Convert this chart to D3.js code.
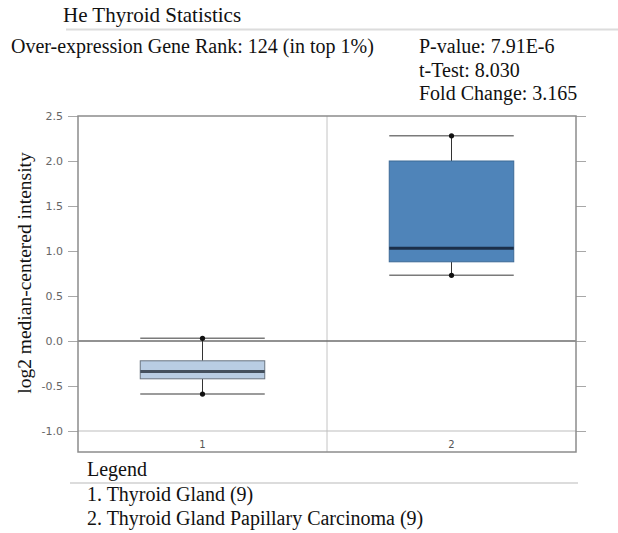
<!DOCTYPE html>
<html>
<head>
<meta charset="utf-8">
<script src="https://cdn.jsdelivr.net/npm/d3@7"></script>
<style>
  html, body { margin: 0; padding: 0; background: #fff; }
  svg { display: block; }
  .serif { font-family: "Liberation Serif", "Times New Roman", serif; fill: #111; }
</style>
</head>
<body>
<svg id="chart" width="618" height="533"></svg>
<script>
// Sample groups and their five-number summaries (log2 median-centered intensity)
const categories = ["1", "2"];
const groupNames = ["Thyroid Gland (9)", "Thyroid Gland Papillary Carcinoma (9)"];
const whiskerMin = [-0.59, 0.73];
const quartile1  = [-0.42, 0.88];
const medians    = [-0.34, 1.03];
const quartile3  = [-0.22, 2.00];
const whiskerMax = [0.03, 2.28];
const yTicks = [-1.0, -0.5, 0.0, 0.5, 1.0, 1.5, 2.0, 2.5];

const title = "He Thyroid Statistics";
const rankText = "Over-expression Gene Rank: 124 (in top 1%)";
const statLines = ["P-value: 7.91E-6", "t-Test: 8.030", "Fold Change: 3.165"];
const axisTitle = "log2 median-centered intensity";

const boxFill   = ["#b9cde3", "#4f84b9"];
const boxStroke = ["#6a7480", "#3d6a96"];
const medColor  = ["#44505e", "#1b2f4a"];

const svg = d3.select("#chart");

// Header
svg.append("text").attr("class", "serif").attr("x", 63).attr("y", 22)
  .attr("font-size", 21).text(title);
svg.append("line").attr("x1", 66).attr("x2", 618).attr("y1", 29.5).attr("y2", 29.5)
  .attr("stroke", "#dcdcdc").attr("stroke-width", 2);
svg.append("text").attr("class", "serif").attr("x", 11).attr("y", 53)
  .attr("font-size", 20).text(rankText);
svg.selectAll("text.stat").data(statLines).join("text")
  .attr("class", "serif stat").attr("x", 419).attr("y", (d, i) => 53 + i * 23.5)
  .attr("font-size", 20).text(d => d);

// Plot area
const plotL = 78, plotR = 576, plotT = 116, axisY = 431, plotB = 452;
const x = d3.scaleBand().domain(categories).range([plotL, plotR]).padding(0);
const y = d3.scaleLinear().domain([-1.0, 2.5]).range([axisY, plotT]);

const fmt = d => d.toFixed(1);

// Left axis
const gl = svg.append("g").attr("transform", `translate(${plotL},0)`)
  .call(d3.axisLeft(y).tickValues(yTicks).tickSize(10).tickPadding(5).tickFormat(fmt));
gl.select(".domain").remove();
gl.selectAll(".tick line").attr("stroke", "#a8a8a8");
gl.selectAll(".tick text").attr("fill", "#666").attr("font-family", "DejaVu Sans, sans-serif")
  .attr("font-size", 11);

// Right axis (ticks only)
const gr = svg.append("g").attr("transform", `translate(${plotR},0)`)
  .call(d3.axisRight(y).tickValues(yTicks).tickSize(10).tickFormat(""));
gr.select(".domain").remove();
gr.selectAll(".tick line").attr("stroke", "#a8a8a8");

// Category divider, axis line and zero line
svg.append("line").attr("x1", x("2")).attr("x2", x("2")).attr("y1", plotT).attr("y2", plotB)
  .attr("stroke", "#c4c4c4").attr("stroke-width", 1);
svg.append("line").attr("x1", plotL).attr("x2", plotR).attr("y1", y(-1.0)).attr("y2", y(-1.0))
  .attr("stroke", "#bdbdbd").attr("stroke-width", 1);
svg.append("line").attr("x1", plotL).attr("x2", plotR).attr("y1", y(0)).attr("y2", y(0))
  .attr("stroke", "#6e6e6e").attr("stroke-width", 1.3);

svg.selectAll("text.cat").data(categories).join("text")
  .attr("class", "cat").attr("x", d => x(d) + x.bandwidth() / 2).attr("y", 448)
  .attr("text-anchor", "middle").attr("fill", "#555")
  .attr("font-family", "DejaVu Sans, sans-serif").attr("font-size", 10).text(d => d);

// Frame
svg.append("rect").attr("x", plotL).attr("y", plotT).attr("width", plotR - plotL).attr("height", plotB - plotT)
  .attr("fill", "none").attr("stroke", "#8c8c8c").attr("stroke-width", 1.5);

// Box plots
const bw = x.bandwidth() * 0.5;
categories.forEach((c, i) => {
  const cx = x(c) + x.bandwidth() / 2;
  const g = svg.append("g");
  // stems
  g.append("line").attr("x1", cx).attr("x2", cx).attr("y1", y(whiskerMax[i])).attr("y2", y(quartile3[i]))
    .attr("stroke", "#333").attr("stroke-width", 1);
  g.append("line").attr("x1", cx).attr("x2", cx).attr("y1", y(quartile1[i])).attr("y2", y(whiskerMin[i]))
    .attr("stroke", "#333").attr("stroke-width", 1);
  // caps
  [whiskerMax[i], whiskerMin[i]].forEach(v => {
    g.append("line").attr("x1", cx - bw / 2).attr("x2", cx + bw / 2).attr("y1", y(v)).attr("y2", y(v))
      .attr("stroke", "#7a7a7a").attr("stroke-width", 1.5);
  });
  // box
  g.append("rect").attr("x", cx - bw / 2).attr("y", y(quartile3[i]))
    .attr("width", bw).attr("height", y(quartile1[i]) - y(quartile3[i]))
    .attr("fill", boxFill[i]).attr("stroke", boxStroke[i]).attr("stroke-width", 1);
  // median
  g.append("line").attr("x1", cx - bw / 2).attr("x2", cx + bw / 2).attr("y1", y(medians[i])).attr("y2", y(medians[i]))
    .attr("stroke", medColor[i]).attr("stroke-width", 3);
  // extreme points
  [whiskerMax[i], whiskerMin[i]].forEach(v => {
    g.append("circle").attr("cx", cx).attr("cy", y(v)).attr("r", 2.6).attr("fill", "#111");
  });
});

// Y-axis title
svg.append("text").attr("class", "serif")
  .attr("transform", `translate(31,273) rotate(-90)`)
  .attr("text-anchor", "middle").attr("font-size", 19.5).text(axisTitle);

// Legend
svg.append("text").attr("class", "serif").attr("x", 87).attr("y", 476)
  .attr("font-size", 20).text("Legend");
svg.append("line").attr("x1", 70).attr("x2", 578).attr("y1", 483).attr("y2", 483)
  .attr("stroke", "#dcdcdc").attr("stroke-width", 2);
svg.selectAll("text.leg").data(groupNames).join("text")
  .attr("class", "serif leg").attr("x", 87).attr("y", (d, i) => 501 + i * 24)
  .attr("font-size", 20).text((d, i) => `${categories[i]}. ${d}`);
</script>
</body>
</html>
